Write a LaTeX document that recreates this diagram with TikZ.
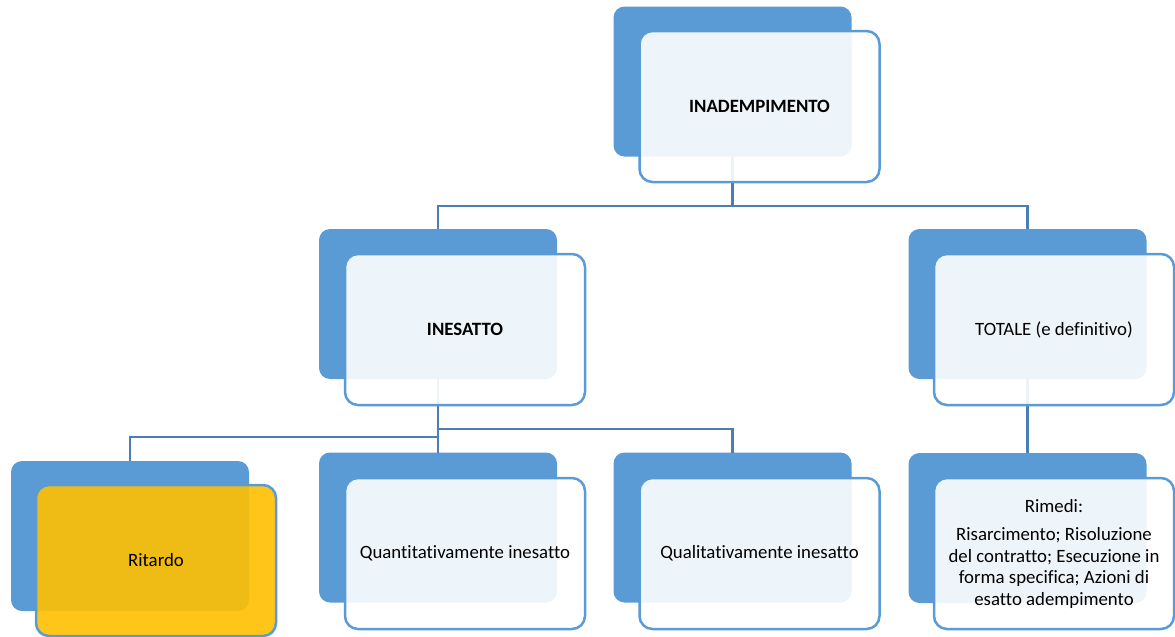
\documentclass[tikz,border=0pt]{standalone}
\usepackage{fontspec}
\setmainfont[Ligatures=NoCommon]{Carlito}
\definecolor{backblue}{HTML}{5B9BD5}
\definecolor{edgeblue}{HTML}{5B9BD5}
\definecolor{linkblue}{HTML}{4A7EB5}
\definecolor{rityellow}{HTML}{FFC000}
\begin{document}
\begin{tikzpicture}[x=1pt,y=-1pt,
  backbox/.style={rectangle, rounded corners=11pt, fill=backblue, draw=none,
    minimum width=238pt, minimum height=150pt, inner sep=0pt, outer sep=0pt},
  frontbox/.style={rectangle, rounded corners=13pt, fill=white, fill opacity=0.9,
    text opacity=1, draw=edgeblue, draw opacity=1, line width=2.5pt,
    minimum width=240pt, minimum height=151pt, inner sep=0pt, outer sep=0pt,
    align=center, font=\fontsize{18.8}{21.5}\selectfont},
  yellowbox/.style={frontbox, fill=rityellow},
  link/.style={draw=linkblue, line width=2.8pt}]
\useasboundingbox (0,0) rectangle (1175,637);
% back boxes
\node[backbox] (topB) at (732.5,81.5) {};
\node[backbox] (inB) at (438,304) {};
\node[backbox] (totB) at (1027.5,304) {};
\node[backbox] (ritB) at (130,536) {};
\node[backbox] (quaB) at (438,527.5) {};
\node[backbox] (quiB) at (732.5,527.5) {};
\node[backbox] (rimB) at (1027.5,528) {};
% bus coordinates
\coordinate (bus1) at (0,206);
\coordinate (bus2) at (0,429);
\coordinate (bus3) at (0,437);
% connectors
\draw[link] (topB.south) -- (topB.south |- bus1) -| (inB.north);
\draw[link] (topB.south |- bus1) -| (totB.north);
\draw[link] (inB.south) -- (inB.south |- bus2) -| (quiB.north);
\draw[link] (inB.south |- bus2) -- (quaB.north);
\draw[link] (inB.south) -- (inB.south |- bus3) -| (ritB.north);
\draw[link] (totB.south) -- (rimB.north);
% front boxes
\node[frontbox] (topF) at (759.5,106.5) {\textbf{INADEMPIMENTO}};
\node[frontbox] (inF) at (465,329.5) {\textbf{INESATTO}};
\node[frontbox] (totF) at (1054,329.5) {TOTALE (e definitivo)};
\node[yellowbox] (ritF) at (156,560.5) {Ritardo};
\node[frontbox] (quaF) at (465,553.5) {Quantitativamente inesatto};
\node[frontbox] (quiF) at (759.5,553.5) {Qualitativamente inesatto};
\node[frontbox] (rimF) at (1054,553.5) {Rimedi:\\[7pt]Risarcimento; Risoluzione\\del contratto; Esecuzione in\\forma specifica; Azioni di\\esatto adempimento};
\end{tikzpicture}
\end{document}
